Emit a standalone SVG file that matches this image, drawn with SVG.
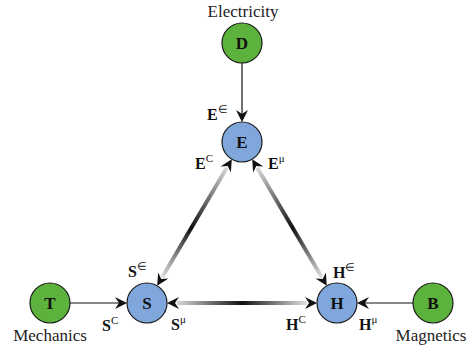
<svg xmlns="http://www.w3.org/2000/svg" xmlns:xlink="http://www.w3.org/1999/xlink" width="474" height="349" viewBox="0 0 474 349">
<style>
.node{stroke:#1a1a1a;stroke-width:1.2}
.src{fill:#5cb23c}
.fld{fill:#7fa7dc}
.nl{font-family:"Liberation Serif",serif;font-weight:bold;font-size:17px;fill:#111;text-anchor:middle}
.cap{font-family:"Liberation Serif",serif;font-size:17px;fill:#222;text-anchor:middle}
.lb{font-family:"Liberation Serif",serif;font-weight:bold;font-size:16px;fill:#111}
.sup{font-weight:normal;font-size:11px}
.thin{stroke:#111;stroke-width:1.2;fill:none}
.grad{stroke-width:4;fill:none}
</style>
<defs>
<path id="ah" d="M0,0 L-12,-6 L-8,0 L-12,6 Z" fill="#111"/>
<linearGradient id="gES" gradientUnits="userSpaceOnUse" x1="226.8" y1="167.8" x2="162.2" y2="277.2">
<stop offset="0" stop-color="#d8d8d8"/><stop offset="0.55" stop-color="#111"/><stop offset="1" stop-color="#e0e0e0"/>
</linearGradient>
<linearGradient id="gEH" gradientUnits="userSpaceOnUse" x1="257.2" y1="167.8" x2="321.8" y2="277.2">
<stop offset="0" stop-color="#d8d8d8"/><stop offset="0.55" stop-color="#111"/><stop offset="1" stop-color="#e0e0e0"/>
</linearGradient>
<linearGradient id="gSH" gradientUnits="userSpaceOnUse" x1="177" y1="303" x2="307" y2="303">
<stop offset="0" stop-color="#d8d8d8"/><stop offset="0.5" stop-color="#111"/><stop offset="1" stop-color="#e0e0e0"/>
</linearGradient>
</defs>

<g id="connectors">
<line class="thin" x1="242" y1="63" x2="242" y2="115"/>
<use xlink:href="#ah" transform="translate(242,122) rotate(90)"/>
<line class="thin" x1="70" y1="303" x2="120" y2="303"/>
<use xlink:href="#ah" transform="translate(127,303)"/>
<line class="thin" x1="413" y1="303" x2="364" y2="303"/>
<use xlink:href="#ah" transform="translate(357,303) rotate(180)"/>
<line class="grad" stroke="url(#gES)" x1="226.8" y1="167.8" x2="162.2" y2="277.2"/>
<line class="grad" stroke="url(#gEH)" x1="257.2" y1="167.8" x2="321.8" y2="277.2"/>
<line class="grad" stroke="url(#gSH)" x1="177" y1="303" x2="307" y2="303"/>
<use xlink:href="#ah" transform="translate(231.8,159.2) rotate(-59.45)"/>
<use xlink:href="#ah" transform="translate(157.2,285.8) rotate(120.55)"/>
<use xlink:href="#ah" transform="translate(252.2,159.2) rotate(-120.55)"/>
<use xlink:href="#ah" transform="translate(326.8,285.8) rotate(59.45)"/>
<use xlink:href="#ah" transform="translate(167,303) rotate(180)"/>
<use xlink:href="#ah" transform="translate(317,303)"/>
</g>

<g id="node-D">
<circle class="node src" cx="242" cy="43" r="20"/>
<text class="nl" x="242" y="49">D</text>
<text class="cap" x="243" y="17">Electricity</text>
</g>
<g id="node-E">
<circle class="node fld" cx="242" cy="142" r="20"/>
<text class="nl" x="242" y="148">E</text>
</g>
<g id="node-T">
<circle class="node src" cx="50" cy="303" r="20"/>
<text class="nl" x="50" y="309">T</text>
<text class="cap" x="50" y="341">Mechanics</text>
</g>
<g id="node-S">
<circle class="node fld" cx="147" cy="303" r="20"/>
<text class="nl" x="147" y="309">S</text>
</g>
<g id="node-H">
<circle class="node fld" cx="337" cy="303" r="20"/>
<text class="nl" x="337" y="309">H</text>
</g>
<g id="node-B">
<circle class="node src" cx="433" cy="303" r="20"/>
<text class="nl" x="433" y="309">B</text>
<text class="cap" x="431" y="341">Magnetics</text>
</g>

<g id="labels">
<text class="lb" x="207" y="120">E<tspan class="sup" dy="-7">∈</tspan></text>
<text class="lb" x="195" y="169">E<tspan class="sup" dy="-7">C</tspan></text>
<text class="lb" x="268" y="169">E<tspan class="sup" dy="-7">μ</tspan></text>
<text class="lb" x="128" y="277">S<tspan class="sup" dy="-7">∈</tspan></text>
<text class="lb" x="102" y="331">S<tspan class="sup" dy="-7">C</tspan></text>
<text class="lb" x="171" y="330">S<tspan class="sup" dy="-7">μ</tspan></text>
<text class="lb" x="333" y="278">H<tspan class="sup" dy="-7">∈</tspan></text>
<text class="lb" x="286" y="330">H<tspan class="sup" dy="-7">C</tspan></text>
<text class="lb" x="359" y="330">H<tspan class="sup" dy="-7">μ</tspan></text>
</g>
</svg>
